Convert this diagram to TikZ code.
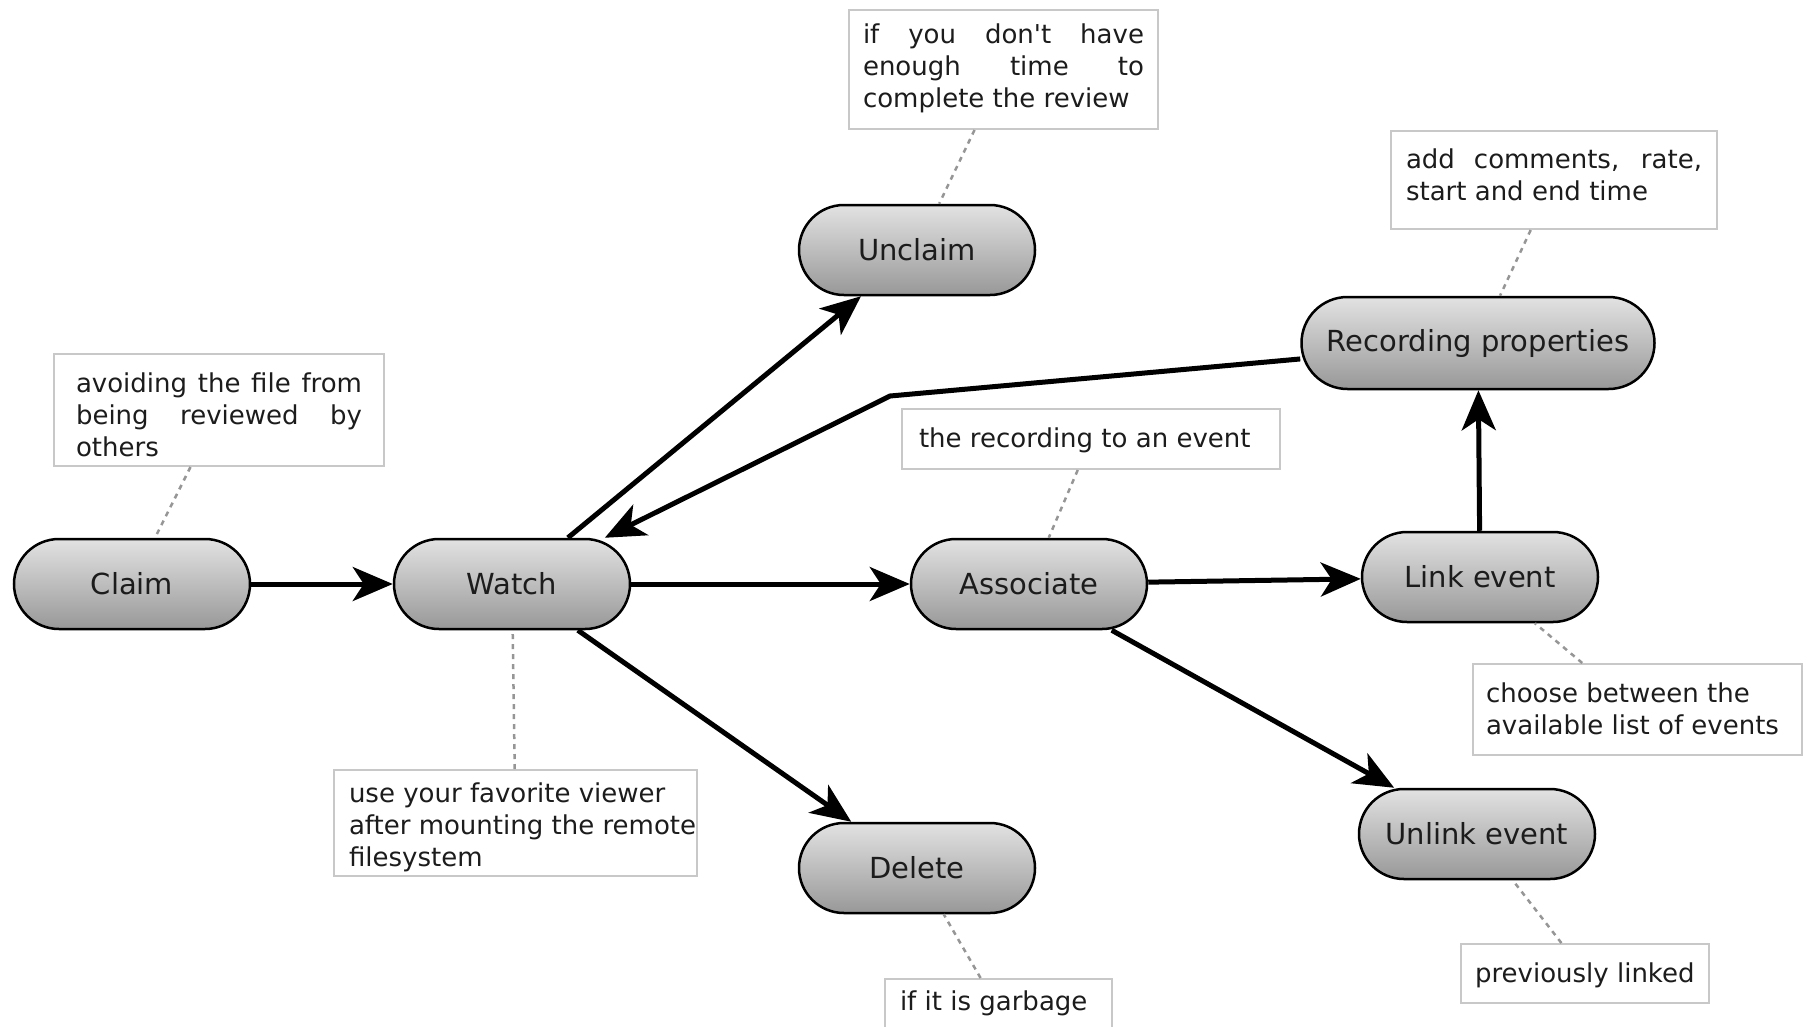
\documentclass[tikz,border=0pt]{standalone}
\usepackage{fontspec}
\newfontfamily\djv{DejaVu Sans}
\usetikzlibrary{arrows.meta}
\definecolor{toptone}{RGB}{226,226,226}
\definecolor{bottone}{RGB}{152,152,152}
\definecolor{notegray}{RGB}{200,200,200}
\definecolor{dotgray}{RGB}{150,150,150}
\definecolor{inkc}{RGB}{28,28,28}
\tikzset{
  task/.style={draw=black, line width=2.5pt, rounded corners=45pt,
    top color=toptone, bottom color=bottone, minimum width=236pt, minimum height=90pt,
    inner sep=0pt, text=inkc, font=\djv\fontsize{29}{34}\selectfont},
  note/.style={draw=notegray, line width=2pt, fill=white, anchor=north west,
    text=inkc, font=\djv\fontsize{26}{32}\selectfont},
  edge/.style={line width=5pt, -{Stealth[length=40pt, width=34pt, inset=11pt]}},
  dots/.style={draw=dotgray, line width=2.5pt, dash pattern=on 5pt off 5pt}
}
\newcommand{\notebox}[3]{\parbox[c][#2][t]{#1}{\hyphenpenalty=10000\exhyphenpenalty=10000 #3}}
\begin{document}
\begin{tikzpicture}[x=1pt, y=-1pt]
\useasboundingbox (0,0) rectangle (1807,1026);
% task nodes
\node[task] (claim) at (132,584) {Claim};
\node[task] (watch) at (512,584) {Watch};
\node[task] (unclaim) at (917,250) {Unclaim};
\node[task] (assoc) at (1029,584) {Associate};
\node[task] (link) at (1480,577) {Link event};
\node[task, minimum width=353pt, minimum height=92pt, rounded corners=46pt] (rec) at (1478,343) {Recording properties};
\node[task] (delete) at (917,868) {Delete};
\node[task] (unlink) at (1477,834) {Unlink event};
% notes
\node[note, inner xsep=22pt, inner ysep=19pt] (nclaim) at (53,353)
  {\notebox{286pt}{74pt}{avoiding the file from\linebreak being reviewed by\linebreak others}};
\node[note, inner xsep=14pt, inner ysep=14pt] (nunclaim) at (848,9)
  {\notebox{281pt}{91pt}{if you don't have\linebreak enough time to\linebreak complete the review}};
\node[note, inner xsep=15pt, inner ysep=18pt] (nrec) at (1390,130)
  {\notebox{296pt}{62pt}{add comments, rate,\linebreak start and end time}};
\node[note, inner xsep=17pt, inner ysep=19pt] (nassoc) at (901,408)
  {\notebox{344pt}{22pt}{the recording to an event}};
\node[note, inner xsep=15pt, inner ysep=13pt] (nwatch) at (333,769)
  {\notebox{333pt}{80pt}{\mbox{use your favorite viewer}\\\mbox{after mounting the remote}\\\mbox{filesystem}}};
\node[note, inner xsep=13pt, inner ysep=19pt] (nlink) at (1472,663)
  {\notebox{303pt}{53pt}{choose between the\\available list of events}};
\node[note, inner xsep=14pt, inner ysep=19pt] (nunlink) at (1460,943)
  {\notebox{220pt}{21pt}{previously linked}};
\node[note, inner xsep=15pt, inner ysep=12pt] (ndelete) at (884,978)
  {\notebox{197pt}{36pt}{if it is garbage}};
% note connectors
\draw[dots] (nclaim) -- (claim);
\draw[dots] (nunclaim) -- (unclaim);
\draw[dots] (nrec) -- (rec);
\draw[dots] (nassoc) -- (assoc);
\draw[dots] (nwatch) -- (watch);
\draw[dots] (nlink) -- (link);
\draw[dots] (nunlink) -- (unlink);
\draw[dots] (ndelete) -- (delete);
% flow
\coordinate (bend) at (890,396);
\draw[edge] (claim) -- (watch);
\draw[edge] (watch) -- (unclaim);
\draw[edge] (watch) -- (assoc);
\draw[edge] (watch) -- (delete);
\draw[edge] (assoc) -- (link);
\draw[edge] (assoc) -- (unlink);
\draw[edge] (link) -- (rec);
\draw[edge] (rec) -- (bend) -- (watch);
\end{tikzpicture}
\end{document}
